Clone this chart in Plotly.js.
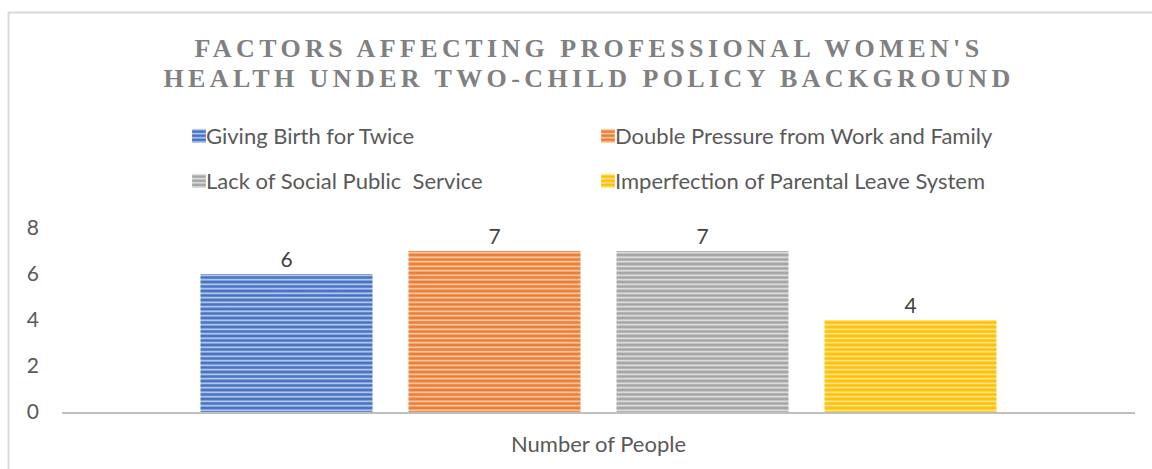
<!DOCTYPE html>
<html>
<head>
<meta charset="utf-8">
<script src="https://cdn.plot.ly/plotly-3.0.1.min.js"></script>
<style>
html,body{margin:0;padding:0;background:#fff;}
#chart{width:1152px;height:469px;}
</style>
</head>
<body>
<div id="chart"></div>
<script>
const categories = ['Number of People'];
const seriesNames = ['Giving Birth for Twice', 'Double Pressure from Work and Family', 'Lack of Social Public  Service', 'Imperfection of Parental Leave System'];
const seriesValues = [[6], [7], [7], [4]];
const yTickValues = [0, 2, 4, 6, 8];
const titleText = "FACTORS AFFECTING PROFESSIONAL WOMEN'S<br>HEALTH UNDER TWO-CHILD POLICY BACKGROUND";

const mainColors = ['#4472c4', '#ed7d31', '#a5a5a5', '#ffc000'];
const stripeColors = ['#c9d6ee', '#fbd6bd', '#e6e6e6', '#ffe9a6'];
const legendIds = ['legend', 'legend2', 'legend3', 'legend4'];
const legendPosPx = [[166, 136], [575, 136], [166, 181], [575, 181]];

const bodyFont = 'Lato, "Open Sans", sans-serif';

const traces = seriesNames.map((name, i) => ({
  type: 'bar',
  name: name,
  x: categories,
  y: seriesValues[i],
  text: seriesValues[i].map(String),
  textposition: 'outside',
  textfont: {family: bodyFont, size: 21, color: '#404040'},
  cliponaxis: false,
  legend: legendIds[i],
  marker: {
    color: mainColors[i],
    line: {width: 0},
    pattern: {shape: '-', bgcolor: mainColors[i], fgcolor: stripeColors[i], size: 4.5, solidity: 0.35, fillmode: 'replace'}
  },
  hoverinfo: 'skip'
}));

const L = 62, R = 1135, T = 228, B = 412, W = 1152, H = 469;
const px2x = p => (p - L) / (R - L);
const py2y = p => (B - p) / (B - T);

const layout = {
  width: W, height: H,
  margin: {l: L, r: W - R, t: T, b: H - B, pad: 0},
  paper_bgcolor: '#ffffff',
  plot_bgcolor: '#ffffff',
  font: {family: bodyFont, color: '#595959', size: 21},
  title: {
    text: titleText,
    font: {family: '"Liberation Serif", "Times New Roman", serif', size: 26, color: '#808080', weight: 'bold'},
    x: px2x(589), xanchor: 'center', xref: 'paper',
    y: 1 - 57 / H, yanchor: 'top', yref: 'container'
  },
  barmode: 'group',
  bargap: 0.2246,
  bargroupgap: 0.173,
  showlegend: true,
  xaxis: {
    type: 'category',
    showgrid: false, zeroline: false,
    showline: true, linecolor: '#bfbfbf', linewidth: 2,
    ticks: '', ticklabelstandoff: 12,
    tickfont: {family: bodyFont, size: 22, color: '#595959'},
    fixedrange: true
  },
  yaxis: {
    range: [0, 8], tickvals: yTickValues, ticktext: yTickValues.map(String),
    showgrid: false, zeroline: false, showline: false,
    ticks: '', ticklabelstandoff: 22,
    tickfont: {family: bodyFont, size: 21, color: '#595959'},
    fixedrange: true
  },
  shapes: [{
    type: 'rect', xref: 'paper', yref: 'paper',
    x0: px2x(8.5), x1: px2x(1170), y0: py2y(500), y1: py2y(12.5),
    line: {color: '#d9d9d9', width: 2}, fillcolor: 'rgba(0,0,0,0)', layer: 'below'
  }]
};

legendIds.forEach((id, i) => {
  layout[id] = {
    orientation: 'h', xanchor: 'left', yanchor: 'middle',
    x: px2x(legendPosPx[i][0]), y: py2y(legendPosPx[i][1]),
    itemwidth: 30,
    font: {family: bodyFont, size: 22, color: '#595959'}, bgcolor: 'rgba(0,0,0,0)',
    itemclick: false, itemdoubleclick: false
  };
});

Plotly.newPlot('chart', traces, layout, {displayModeBar: false, staticPlot: true}).then(() => {
  document.querySelectorAll('.gtitle').forEach(el => {
    el.style.letterSpacing = '4.4px';
    el.querySelectorAll('tspan.line').forEach((ts, k) => { if (k > 0) ts.setAttribute('dy', '29.5px'); });
  });
  // bring the legend swatches closer to their labels and make them slightly larger
  document.querySelectorAll('g.legendpoints').forEach(g => {
    const t = g.getAttribute('transform') || '';
    g.setAttribute('transform', t + ' translate(10,0) scale(1.15)');
  });
});
</script>
</body>
</html>
